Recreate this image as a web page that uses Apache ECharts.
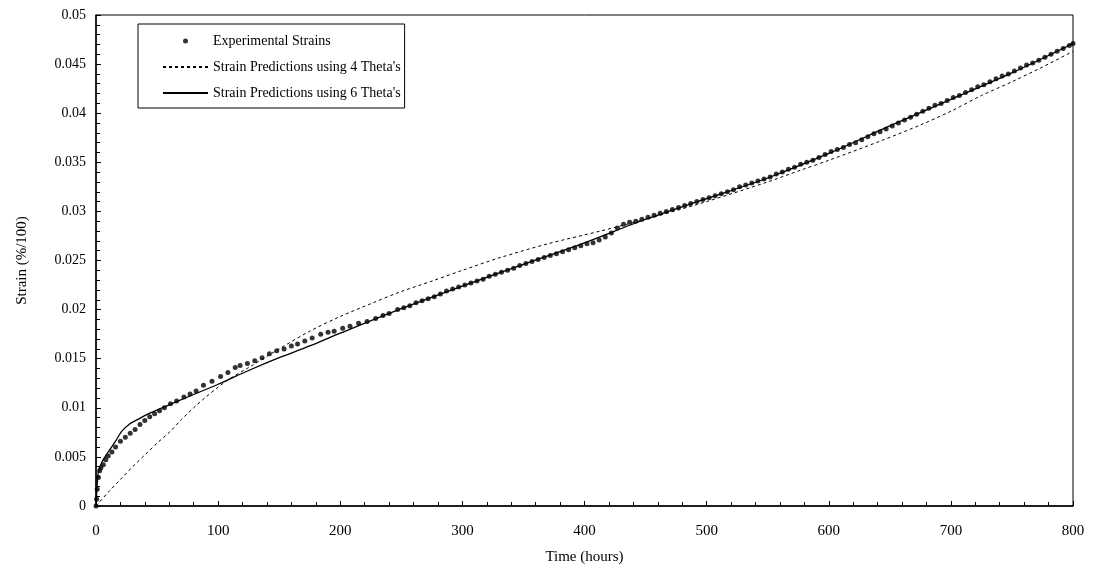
<!DOCTYPE html>
<html>
<head>
<meta charset="utf-8">
<script src="https://cdn.jsdelivr.net/npm/echarts@6/dist/echarts.min.js"></script>
<style>html,body{margin:0;padding:0;background:#fff}#c{width:1093px;height:581px}</style>
</head>
<body>
<div id="c"></div>
<script>
// ---- Data ----
const expTimes = [0,0.5,1,2,3,4,6,8,10,13,16,20,24,28,32,36,40,44,48,52,56,61,66,72,77,82,88,95,102,108,114,118,124,130,136,142,148,154,160,165,171,177,184,190,195,202,208,215,222,229,235,240,247,
252,257,262,267,272,277,282,287,292,297,302,307,312,317,322,327,332,337,342,347,352,357,362,367,372,377,382,387,392,397,402,407,412,417,422,427,432,437,442,447,452,457,462,467,472,477,482,487,492,497,502,507,512,517,522,527,532,537,542,547,552,557,562,567,572,577,582,587,592,597,602,607,612,617,622,627,632,637,642,647,652,657,662,667,672,677,682,687,692,697,702,707,712,717,722,727,732,737,742,747,752,757,762,767,772,777,782,787,792,797,800];
const expStrains = [0,0.0007,0.0017,0.0029,0.0036,0.0039,0.0042,0.0047,0.0051,0.0055,0.0060,0.0066,0.0070,0.0074,0.0078,0.0083,0.0087,0.0091,0.0094,0.0097,0.0100,0.0104,0.0107,0.0111,0.0114,0.0117,0.0123,0.0127,0.0132,0.0136,0.0141,0.0143,0.0145,0.0148,0.0151,0.0155,0.0158,0.0160,0.0163,0.0165,0.0168,0.0171,0.0175,0.0177,0.0178,0.0181,0.0183,0.0186,0.0188,0.0191,0.0194,0.0196,0.0200,
0.0202,0.0204,0.0207,0.0209,0.0211,0.0213,0.0216,0.0219,0.0221,0.0223,0.0225,0.0227,0.0229,0.0231,0.0234,0.0236,0.0238,0.0240,0.0242,0.0245,0.0247,0.0249,0.0251,0.0253,0.0255,0.0257,0.0259,0.0261,0.0263,0.0265,0.0267,0.0268,0.0271,0.0274,0.0278,0.0283,0.0287,0.0289,0.0290,0.0292,0.0294,0.0296,0.0298,0.0300,0.0302,0.0304,0.0306,0.0308,0.0310,0.0312,0.0314,0.0316,0.0318,0.0320,0.0322,0.0325,0.0327,0.0329,0.0331,0.0333,0.0335,0.0338,0.0340,0.0343,0.0345,0.0348,0.0350,0.0352,0.0355,0.0358,0.0361,0.0363,0.0365,0.0368,0.0370,0.0373,0.0376,0.0379,0.0381,0.0384,0.0387,0.0390,0.0393,0.0396,0.0399,0.0402,0.0405,0.0408,0.0410,0.0413,0.0416,0.0418,0.0421,0.0424,0.0427,0.0429,0.0432,0.0435,0.0438,0.0440,0.0443,0.0446,0.0449,0.0451,0.0454,0.0457,0.0460,0.0463,0.0466,0.0469,0.0471];

const theta4Times   = [0,10,20,30,40,50,60,70,80,90,100,110,125,150,175,200,225,249,275,300,331,370,413,450,500,550,577,600,643,675,700,725,750,775,800];
const theta4Strains = [0,0.0014,0.0027,0.0040,0.0052,0.0064,0.0075,0.0088,0.0100,0.0111,0.0121,0.0130,0.0141,0.0160,0.0178,0.0193,0.0206,0.0218,0.0229,0.0240,0.0253,0.0267,0.0280,0.0292,0.0310,0.0330,0.0342,0.0352,0.0372,0.0388,0.0402,0.0418,0.0432,0.0447,0.0463];

const theta6Times   = [0,1,2,5,10,16,21,27,34,45,58,75,100,125,150,175,200,250,300,350,400,450,500,550,600,650,700,750,800];
const theta6Strains = [0,0.0022,0.0035,0.0045,0.0055,0.0066,0.0076,0.0083,0.0088,0.0095,0.0102,0.0111,0.0124,0.0138,0.0151,0.0163,0.0176,0.0201,0.0224,0.0246,0.0268,0.0292,0.0313,0.0334,0.0359,0.0387,0.0414,0.0441,0.0471];

const seriesNames = ["Experimental Strains", "Strain Predictions using 4 Theta's", "Strain Predictions using 6 Theta's"];
const xAxisTitle = "Time (hours)";
const yAxisTitle = "Strain (%/100)";

function zip(a, b) { return a.map((v, i) => [v, b[i]]); }

const FONT = "'Liberation Serif', 'DejaVu Serif', serif";
const chart = echarts.init(document.getElementById('c'), null, {renderer: 'canvas'});
chart.setOption({
  animation: false,
  backgroundColor: '#fff',
  textStyle: {fontFamily: FONT, color: '#000'},
  grid: {left: 96, right: 20, top: 15, bottom: 75, show: true, borderColor: '#000', borderWidth: 1, backgroundColor: 'transparent'},
  legend: {
    orient: 'vertical', left: 138, top: 24,
    borderColor: '#000', borderWidth: 1, borderRadius: 0,
    padding: [9, 4, 7, 24],
    itemGap: 10, itemWidth: 45, itemHeight: 5,
    textStyle: {fontFamily: FONT, fontSize: 14, color: '#000', lineHeight: 16},
    data: [
      {name: seriesNames[0]},
      {name: seriesNames[1], itemStyle: {opacity: 0}},
      {name: seriesNames[2], itemStyle: {opacity: 0}}
    ]
  },
  xAxis: {
    type: 'value', min: 0, max: 800, interval: 100,
    name: xAxisTitle, nameLocation: 'middle', nameGap: 44,
    nameTextStyle: {fontFamily: FONT, fontSize: 15, color: '#000'},
    axisLine: {lineStyle: {color: '#000', width: 1.5}},
    axisTick: {inside: true, length: 5, lineStyle: {color: '#000'}},
    minorTick: {show: true, splitNumber: 5, length: 4, lineStyle: {color: '#000'}},
    splitLine: {show: false},
    axisLabel: {fontFamily: FONT, fontSize: 15, color: '#000', margin: 18}
  },
  yAxis: {
    type: 'value', min: 0, max: 0.05, interval: 0.005,
    name: yAxisTitle, nameLocation: 'middle', nameGap: 66, nameRotate: 90,
    nameTextStyle: {fontFamily: FONT, fontSize: 15, color: '#000'},
    axisLine: {show: true, lineStyle: {color: '#000', width: 1.5}},
    axisTick: {show: true, inside: true, length: 5, lineStyle: {color: '#000'}},
    minorTick: {show: true, splitNumber: 5, length: 4, lineStyle: {color: '#000'}},
    splitLine: {show: false},
    axisLabel: {fontFamily: FONT, fontSize: 14, color: '#000', margin: 10,
      formatter: v => String(parseFloat(v.toFixed(4)))}
  },
  series: [
    {
      name: seriesNames[0], type: 'scatter', symbol: 'circle', symbolSize: 5,
      symbolKeepAspect: true,
      itemStyle: {color: '#000'}, z: 3,
      data: zip(expTimes, expStrains)
    },
    {
      name: seriesNames[1], type: 'line', showSymbol: false, symbol: 'none', smooth: 0.3,
      lineStyle: {color: '#000', width: 1, type: [3, 3]}, itemStyle: {color: '#000'},
      data: zip(theta4Times, theta4Strains)
    },
    {
      name: seriesNames[2], type: 'line', showSymbol: false, symbol: 'none', smooth: 0.3,
      lineStyle: {color: '#000', width: 1.3}, itemStyle: {color: '#000'},
      data: zip(theta6Times, theta6Strains)
    }
  ]
});
</script>
</body>
</html>
